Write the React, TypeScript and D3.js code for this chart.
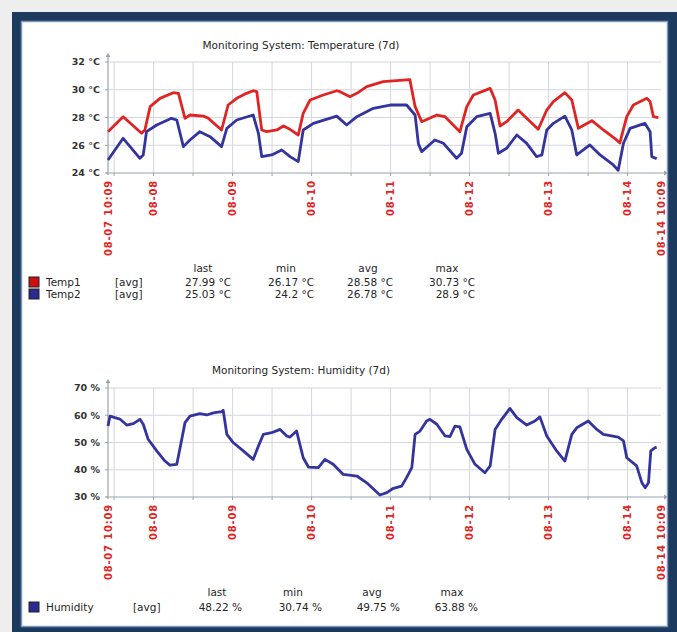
import React from "react";
import * as d3 from "d3";

// ---- data (hours since 08-07 10:09, value) ----
const temp1: [number, number][] = [
  [0, 26.98], [4.6, 28.06], [10.2, 26.86], [11.2, 27.1], [12.8, 28.78], [15.8, 29.38], [19.8, 29.79], [21.4, 29.74],
  [23.4, 27.94], [24.9, 28.18], [29.0, 28.1], [30.5, 27.94], [34.5, 27.1], [36.5, 28.9], [39.1, 29.38], [42.1, 29.74],
  [44.1, 29.93], [45.2, 29.86], [46.7, 27.1], [48.2, 26.98], [51.3, 27.1], [53.3, 27.39], [55.3, 27.15], [57.8, 26.74],
  [59.3, 28.3], [61.4, 29.26], [65.4, 29.62], [69.5, 29.93], [70.5, 29.86], [73.5, 29.5], [75.6, 29.74], [78.6, 30.22],
  [83.6, 30.58], [91.7, 30.73], [93.3, 28.78], [95.3, 27.7], [99.9, 28.18], [102.4, 28.06], [106.9, 26.98], [109.0, 28.78],
  [111.0, 29.62], [116.1, 30.1], [117.6, 29.26], [119.1, 27.39], [121.1, 27.7], [124.6, 28.54], [127.2, 27.94], [130.7, 27.15],
  [133.3, 28.54], [135.3, 29.14], [138.8, 29.79], [140.9, 29.26], [142.9, 27.22], [147.0, 27.77], [150.5, 27.1], [154.5, 26.38],
  [155.5, 26.17], [157.6, 28.06], [159.6, 28.9], [163.7, 29.38], [164.7, 29.14], [165.7, 28.06], [167.2, 27.99],
];

const temp2: [number, number][] = [
  [0, 24.94], [4.6, 26.5], [9.7, 25.06], [10.7, 25.3], [11.7, 26.98], [14.8, 27.46], [19.3, 27.94], [20.9, 27.82],
  [22.9, 25.9], [24.9, 26.38], [27.9, 26.98], [31.0, 26.62], [34.5, 25.9], [36.1, 27.22], [39.1, 27.82], [44.1, 28.18],
  [45.7, 26.86], [46.7, 25.18], [49.7, 25.3], [52.8, 25.66], [55.3, 25.18], [57.8, 24.82], [59.3, 27.1], [62.4, 27.58],
  [69.5, 28.1], [72.5, 27.46], [75.6, 28.06], [80.6, 28.66], [85.7, 28.9], [90.7, 28.9], [93.3, 28.18], [94.3, 26.1],
  [95.3, 25.54], [99.3, 26.38], [101.9, 26.14], [105.9, 25.06], [107.4, 25.42], [109.0, 27.34], [112.0, 28.06], [116.1, 28.3],
  [117.6, 26.86], [118.6, 25.42], [121.1, 25.78], [124.2, 26.74], [127.2, 26.14], [130.2, 25.18], [131.8, 25.3], [133.3, 27.1],
  [135.3, 27.58], [138.8, 28.1], [140.9, 27.1], [142.4, 25.3], [146.4, 26.02], [149.5, 25.3], [153.5, 24.58], [155.0, 24.2],
  [156.6, 26.14], [158.6, 27.22], [163.1, 27.58], [164.7, 26.98], [165.2, 25.18], [166.7, 25.03],
];

const humidity: [number, number][] = [
  [0, 56.05], [0.6, 59.7], [2.1, 59.1], [3.6, 58.6], [5.7, 56.4], [7.7, 56.9], [9.7, 58.5], [10.7, 56.7],
  [12.2, 51.2], [14.8, 46.9], [17.3, 43.2], [18.8, 41.7], [20.9, 42.0], [21.9, 48.1], [23.4, 57.3], [24.9, 59.7],
  [27.9, 60.6], [30.0, 60.1], [32.0, 60.9], [34.5, 61.3], [35.0, 61.8], [36.1, 53.0], [38.1, 49.9], [41.1, 46.9],
  [44.1, 43.8], [45.7, 48.7], [47.2, 53.0], [49.7, 53.6], [52.3, 54.8], [54.3, 52.4], [55.3, 52.0], [57.3, 54.2],
  [59.3, 44.4], [60.9, 41.0], [63.9, 40.8], [65.9, 43.8], [68.4, 42.0], [71.5, 38.3], [75.6, 37.7], [78.6, 35.2],
  [82.6, 30.74], [84.7, 31.6], [86.7, 33.2], [89.2, 34.0], [90.7, 37.1], [92.3, 40.8], [93.3, 53.0], [94.8, 54.2],
  [96.8, 57.9], [97.8, 58.5], [99.9, 56.7], [102.4, 52.4], [103.9, 52.2], [105.4, 56.0], [106.9, 55.7], [109.0, 47.5],
  [111.5, 42.0], [114.5, 38.9], [116.1, 41.4], [117.6, 54.8], [119.6, 58.5], [122.1, 62.5], [124.2, 59.1], [127.2, 56.4],
  [129.7, 57.9], [131.2, 59.4], [133.3, 52.4], [136.3, 46.9], [138.8, 43.2], [140.9, 53.0], [142.4, 55.4], [145.9, 57.9],
  [148.5, 54.8], [150.5, 53.0], [155.0, 52.0], [156.6, 50.6], [157.6, 44.4], [160.6, 41.4], [162.2, 35.2], [163.2, 33.4],
  [164.2, 35.2], [164.9, 46.9], [166.2, 48.1], [166.7, 48.22],
];

const timeTickIso = [
  "2016-08-07T10:09:00Z", "2016-08-08T00:00:00Z", "2016-08-09T00:00:00Z", "2016-08-10T00:00:00Z",
  "2016-08-11T00:00:00Z", "2016-08-12T00:00:00Z", "2016-08-13T00:00:00Z", "2016-08-14T00:00:00Z",
  "2016-08-14T10:09:00Z",
];
const timeTickLabels = ["08-07 10:09", "08-08", "08-09", "08-10", "08-11", "08-12", "08-13", "08-14", "08-14 10:09"];

const tempTicks = [24, 26, 28, 30, 32];
const humTicks = [30, 40, 50, 60, 70];

const statHeaders = ["last", "min", "avg", "max"];
const temp1Stats = ["27.99 °C", "26.17 °C", "28.58 °C", "30.73 °C"];
const temp2Stats = ["25.03 °C", "24.2 °C", "26.78 °C", "28.9 °C"];
const humStats = ["48.22 %", "30.74 %", "49.75 %", "63.88 %"];

// ---- layout ----
const START = Date.UTC(2016, 7, 7, 10, 9);
const END = START + 168 * 3600000;
const toDate = (h: number) => new Date(START + h * 3600000);
const FONT = "DejaVu Sans, sans-serif";
const RED = "#e02424";
const BLUE = "#34349e";
const GRID = "#d3d6de";
const AXIS = "#9aa3b0";

const x = d3.scaleUtc().domain([new Date(START), new Date(END)]).range([108, 661]);

function Panel({
  title, titleY, yScale, ticks, fmt, series,
}: {
  title: string; titleY: number; yScale: d3.ScaleLinear<number, number>; ticks: number[];
  fmt: (v: number) => string; series: { data: [number, number][]; color: string }[];
}) {
  const [y0, y1] = yScale.range();
  const [x0, x1] = x.range();
  const grid = d3.utcHour.every(12)!.range(new Date(START), new Date(END));
  const line = d3.line<[number, number]>().x((d) => x(toDate(d[0]))).y((d) => yScale(d[1]));
  return (
    <g>
      <text x={301} y={titleY} textAnchor="middle" dy="0.35em" fontFamily={FONT} fontSize={10.5} fill="#262626">
        {title}
      </text>
      {grid.map((t, i) => (
        <line key={"vg" + i} x1={x(t)} x2={x(t)} y1={y0} y2={y1} stroke={GRID} strokeWidth={1} />
      ))}
      {ticks.slice(1).map((v) => (
        <line key={"hg" + v} x1={x0} x2={x1} y1={yScale(v)} y2={yScale(v)} stroke={GRID} strokeWidth={1} />
      ))}
      {ticks.map((v) => (
        <g key={"yt" + v}>
          <line x1={x0 - 3} x2={x0} y1={yScale(v)} y2={yScale(v)} stroke={AXIS} />
          <text x={100} y={yScale(v)} dy="0.35em" textAnchor="end" fontFamily={FONT} fontSize={9.5} fontWeight="bold" fill="#333">
            {fmt(v)}
          </text>
        </g>
      ))}
      {grid.map((t, i) => (
        <line key={"xt" + i} x1={x(t)} x2={x(t)} y1={y0} y2={y0 + 3} stroke={AXIS} />
      ))}
      {/* axes */}
      <line x1={x0} x2={x0} y1={y0 + 2} y2={y1 - 7} stroke={AXIS} strokeWidth={1.2} />
      <path d={`M${x0 - 2.5},${y1 - 5} L${x0},${y1 - 9} L${x0 + 2.5},${y1 - 5} Z`} fill={AXIS} />
      <line x1={x0 - 2} x2={x1 + 4} y1={y0} y2={y0} stroke={AXIS} strokeWidth={1.2} />
      <path d={`M${x1 + 3},${y0 - 2.5} L${x1 + 7},${y0} L${x1 + 3},${y0 + 2.5} Z`} fill={AXIS} />
      {series.map((s, i) => (
        <path key={"s" + i} d={line(s.data) || ""} fill="none" stroke={s.color} strokeWidth={2.8} strokeLinejoin="round" />
      ))}
      {timeTickIso.map((iso, i) => {
        const px = x(new Date(iso));
        return (
          <text
            key={"xl" + i}
            transform={`translate(${px},${y0 + 7}) rotate(-90)`}
            textAnchor="end"
            dy="0.35em"
            fontFamily={FONT}
            fontSize={10}
            fontWeight="bold"
            letterSpacing={0.8}
            fill={RED}
          >
            {timeTickLabels[i]}
          </text>
        );
      })}
    </g>
  );
}

function Legend({
  headerY, rows, headerX, valueX, avgX,
}: {
  headerY: number;
  rows: { name: string; color: string; y: number; stats: string[] }[];
  headerX: number[]; valueX: number[]; avgX: number;
}) {
  return (
    <g fontFamily={FONT} fontSize={10.5} fill="#262626">
      {statHeaders.map((h, i) => (
        <text key={h} x={headerX[i]} y={headerY} dy="0.35em" textAnchor="middle">{h}</text>
      ))}
      {rows.map((r) => (
        <g key={r.name}>
          <rect x={29} y={r.y - 5} width={10} height={10} fill={r.color} stroke="#222" strokeWidth={1} />
          <text x={46} y={r.y} dy="0.35em">{r.name}</text>
          <text x={avgX} y={r.y} dy="0.35em">[avg]</text>
          {r.stats.map((s, i) => (
            <text key={i} x={valueX[i]} y={r.y} dy="0.35em" textAnchor="end">{s}</text>
          ))}
        </g>
      ))}
    </g>
  );
}

export default function App() {
  const tempY = d3.scaleLinear().domain([24, 32]).range([173, 62]);
  const humY = d3.scaleLinear().domain([30, 70]).range([497, 388]);
  return (
    <svg width={677} height={632} style={{ position: "absolute", left: 0, top: 0 }}>
      <rect x={0} y={0} width={677} height={632} fill="#eeeeee" />
      <rect x={12} y={12} width={665} height={620} fill="#1c3a5e" />
      <rect x={21.5} y={21.5} width={646} height={605} fill="#ffffff" stroke="#7c98bd" strokeWidth={1.5} />
      <Panel
        title="Monitoring System: Temperature (7d)"
        titleY={45}
        yScale={tempY}
        ticks={tempTicks}
        fmt={(v) => `${v} °C`}
        series={[{ data: temp1, color: RED }, { data: temp2, color: BLUE }]}
      />
      <Legend
        headerY={268}
        headerX={[203, 286, 368, 447]}
        valueX={[231, 314, 393, 475]}
        avgX={115}
        rows={[
          { name: "Temp1", color: "#cc1010", y: 282, stats: temp1Stats },
          { name: "Temp2", color: "#2a2a90", y: 294, stats: temp2Stats },
        ]}
      />
      <Panel
        title="Monitoring System: Humidity (7d)"
        titleY={370}
        yScale={humY}
        ticks={humTicks}
        fmt={(v) => `${v} %`}
        series={[{ data: humidity, color: BLUE }]}
      />
      <Legend
        headerY={592}
        headerX={[217, 293, 372, 452]}
        valueX={[242, 322, 400, 478]}
        avgX={133}
        rows={[{ name: "Humidity", color: "#2a2a90", y: 607, stats: humStats }]}
      />
    </svg>
  );
}
